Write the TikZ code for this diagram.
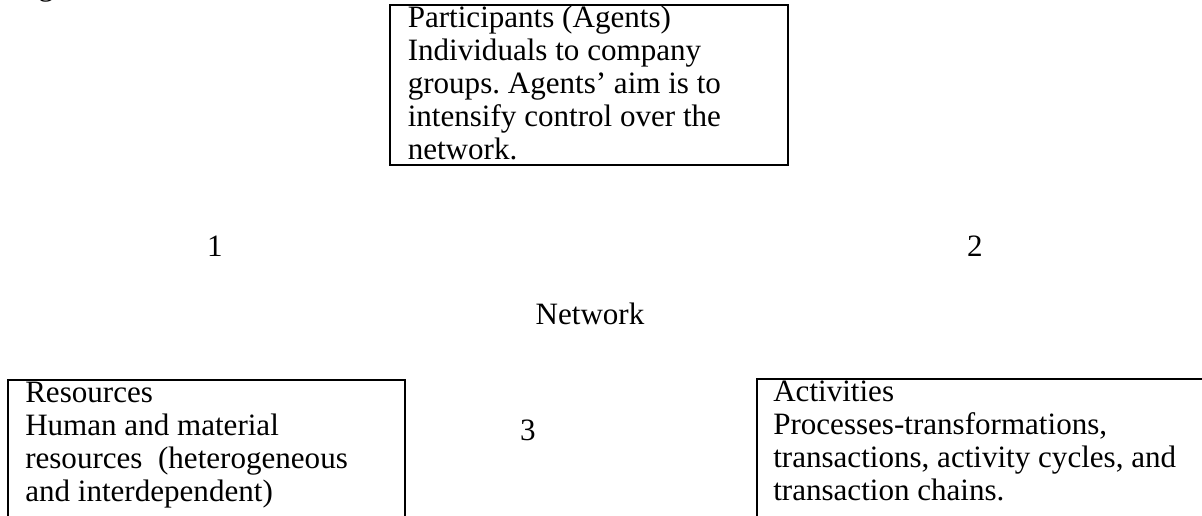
\documentclass[tikz,border=0pt]{standalone}
\usepackage{fontspec}
\setmainfont{Liberation Serif}
\frenchspacing
\begin{document}
\begin{tikzpicture}[x=0.75pt,y=-0.75pt,
  frame/.style={draw=black, line width=1.5pt, inner sep=0pt, anchor=north west},
  body/.style={anchor=north west, inner sep=0pt, align=left,
               font=\fontsize{23.3}{24.8}\selectfont},
  tag/.style={anchor=base, inner sep=0pt, font=\fontsize{23.3}{24.8}\selectfont}]
\useasboundingbox (0,0) rectangle (1202,515);

% descender of the caption line above the figure
\node[tag, anchor=base west] (cap) at (38,-4.5) {g};

% three boxes of the network model
\node[frame, minimum width=298.5pt, minimum height=120pt] (agents) at (389,4) {};
\node[frame, minimum width=297.75pt, minimum height=150pt] (resources) at (7,379) {};
\node[frame, minimum width=375pt, minimum height=150pt] (activities) at (756,378) {};

\node[body] (agentsText) at ([shift={(18.5,0)}]agents.north west)
  {\strut Participants (Agents)\\
   Individuals to company\\
   groups. Agents’ aim is to\\
   intensify control over the\\
   network.};
\node[body] (resourcesText) at ([shift={(18,0)}]resources.north west)
  {\strut Resources\\
   Human and material\\
   resources~ (heterogeneous\\
   and interdependent)};
\node[body] (activitiesText) at ([shift={(17,0)}]activities.north west)
  {\strut Activities\\
   Processes-transformations,\\
   transactions, activity cycles, and\\
   transaction chains.};

% relation numbers and centre label
\node[tag] (one) at (215,256) {1};
\node[tag] (two) at (975,256) {2};
\node[tag] (net) at (590,324) {Network};
\node[tag] (three) at (528,440) {3};
\end{tikzpicture}
\end{document}
